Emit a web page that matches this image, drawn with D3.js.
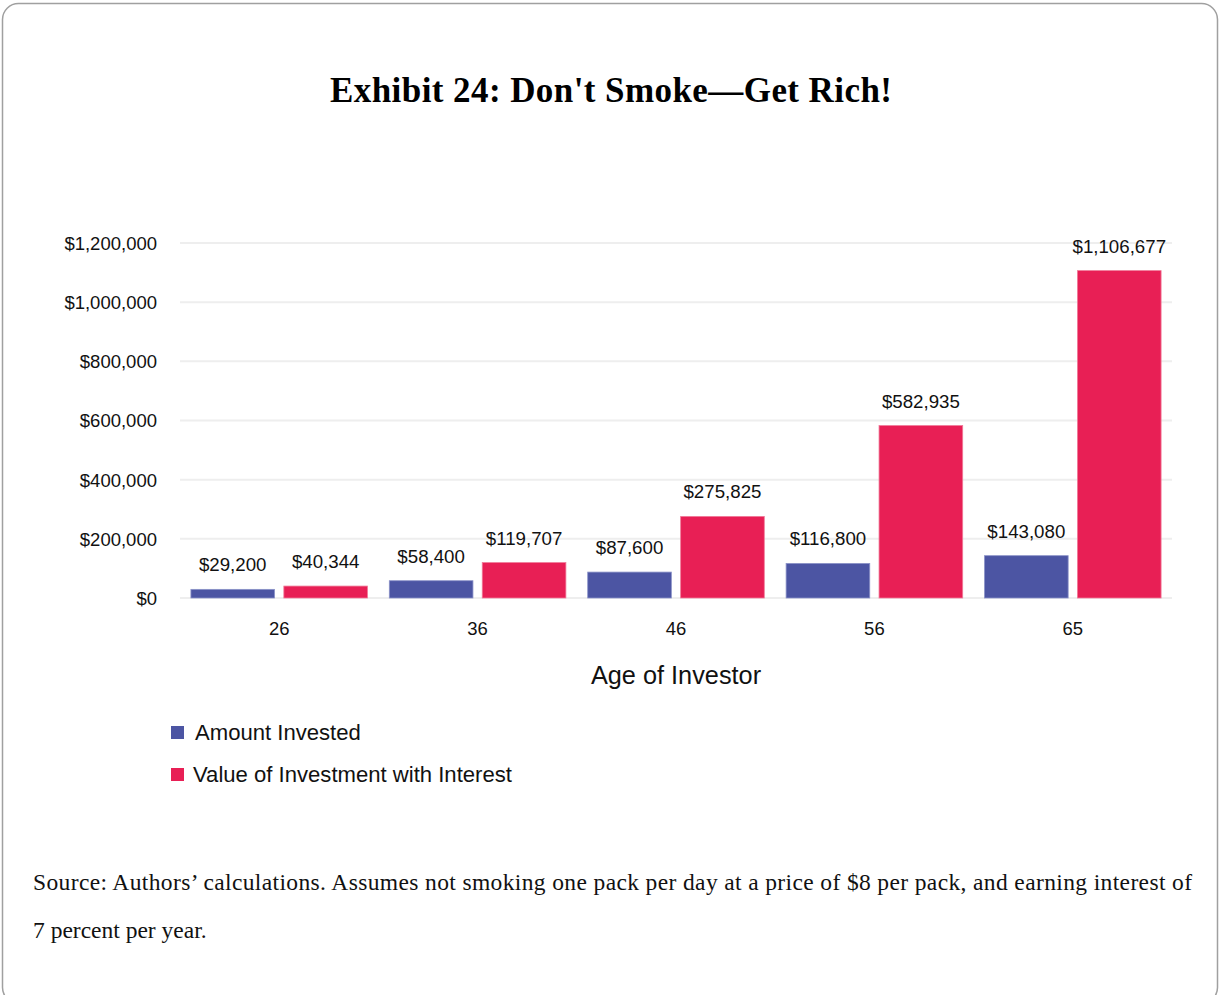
<!DOCTYPE html>
<html>
<head>
<meta charset="utf-8">
<script src="https://cdn.jsdelivr.net/npm/d3@7"></script>
<style>
  html, body { margin: 0; padding: 0; background: #fff; }
  svg { display: block; }
</style>
</head>
<body>
<svg id="chart" width="1220" height="995"></svg>
<script>
// Ages at which the savings are measured
const ages = ["26", "36", "46", "56", "65"];
// Cumulative amount not spent on cigarettes
const amountInvested = [29200, 58400, 87600, 116800, 143080];
// Same savings compounded at 7% per year
const valueWithInterest = [40344, 119707, 275825, 582935, 1106677];
const seriesNames = ["Amount Invested", "Value of Investment with Interest"];
const yTicks = [0, 200000, 400000, 600000, 800000, 1000000, 1200000];

const colors = ["#4c55a3", "#e81f55"];
const sans = "'Liberation Sans', Arial, Helvetica, sans-serif";
const serif = "'Liberation Serif', 'Times New Roman', Times, serif";

const svg = d3.select("#chart");

// Outer frame
svg.append("rect")
  .attr("x", 2.5).attr("y", 3.5)
  .attr("width", 1215).attr("height", 1000)
  .attr("rx", 16).attr("ry", 16)
  .attr("fill", "none")
  .attr("stroke", "#a0a0a0")
  .attr("stroke-width", 1.5);

// Title
svg.append("text")
  .attr("x", 611).attr("y", 102)
  .attr("text-anchor", "middle")
  .attr("font-family", serif)
  .attr("font-weight", "bold")
  .attr("font-size", 35)
  .attr("textLength", 562)
  .attr("lengthAdjust", "spacing")
  .attr("fill", "#000")
  .text("Exhibit 24: Don't Smoke\u2014Get Rich!");

const plot = { left: 180, right: 1172, top: 243, bottom: 598 };

const y = d3.scaleLinear()
  .domain([0, 1200000])
  .range([plot.bottom, plot.top]);

const x0 = d3.scaleBand()
  .domain(ages)
  .range([plot.left, plot.right])
  .paddingInner(0.11)
  .paddingOuter(0.055);

const x1 = d3.scaleBand()
  .domain([0, 1])
  .range([0, x0.bandwidth()])
  .paddingInner(0.1);

// Gridlines
svg.append("g")
  .selectAll("line")
  .data(yTicks)
  .join("line")
  .attr("x1", plot.left).attr("x2", plot.right)
  .attr("y1", d => y(d)).attr("y2", d => y(d))
  .attr("stroke", "#eeeeee")
  .attr("stroke-width", 2);

// Y axis
const fmt = d => "$" + d3.format(",")(d);
const yAxis = svg.append("g")
  .attr("transform", `translate(${plot.left - 23},0)`)
  .call(d3.axisLeft(y).tickValues(yTicks).tickFormat(fmt).tickSize(0).tickPadding(0));
yAxis.select(".domain").remove();
yAxis.selectAll("text")
  .attr("font-family", sans)
  .attr("font-size", 18.5)
  .attr("fill", "#111")
  .attr("dy", "0.35em");

// X axis
const xAxis = svg.append("g")
  .attr("transform", `translate(0,${plot.bottom})`)
  .call(d3.axisBottom(x0).tickSize(0).tickPadding(0));
xAxis.select(".domain").remove();
xAxis.selectAll("text")
  .attr("font-family", sans)
  .attr("font-size", 18.5)
  .attr("fill", "#111")
  .attr("dy", 0)
  .attr("y", 37);

// Axis title
svg.append("text")
  .attr("x", (plot.left + plot.right) / 2)
  .attr("y", 684)
  .attr("text-anchor", "middle")
  .attr("font-family", sans)
  .attr("font-size", 25.3)
  .attr("fill", "#111")
  .text("Age of Investor");

// Bars
const rows = ages.map((a, i) => ({ age: a, values: [amountInvested[i], valueWithInterest[i]] }));

const groups = svg.append("g")
  .selectAll("g")
  .data(rows)
  .join("g")
  .attr("transform", d => `translate(${x0(d.age)},0)`);

groups.selectAll("rect")
  .data(d => d.values.map((v, k) => ({ k, v })))
  .join("rect")
  .attr("x", d => x1(d.k))
  .attr("width", x1.bandwidth())
  .attr("y", d => y(d.v))
  .attr("height", d => y(0) - y(d.v))
  .attr("fill", d => colors[d.k])
  .attr("stroke", d => d.k === 0 ? "#8b92c8" : "#f07a98")
  .attr("stroke-width", 0.8);

groups.selectAll("text")
  .data(d => d.values.map((v, k) => ({ k, v })))
  .join("text")
  .attr("x", d => x1(d.k) + x1.bandwidth() / 2)
  .attr("y", d => y(d.v) - 18)
  .attr("text-anchor", "middle")
  .attr("font-family", sans)
  .attr("font-size", 18.7)
  .attr("fill", "#111")
  .text(d => fmt(d.v));

// Legend
const legend = svg.append("g")
  .selectAll("g")
  .data(seriesNames)
  .join("g")
  .attr("transform", (d, i) => `translate(171,${726 + i * 42})`);

legend.append("rect")
  .attr("width", 13).attr("height", 13)
  .attr("fill", (d, i) => colors[i]);

legend.append("text")
  .attr("x", (d, i) => i === 0 ? 24 : 22)
  .attr("y", 14)
  .attr("font-family", sans)
  .attr("font-size", 22.1)
  .attr("fill", "#111")
  .text(d => d);

// Source note
const notes = [
  "Source: Authors\u2019 calculations. Assumes not smoking one pack per day at a price of $8 per pack, and earning interest of",
  "7 percent per year."
];
svg.append("g")
  .selectAll("text")
  .data(notes)
  .join("text")
  .attr("x", 33)
  .attr("y", (d, i) => 890 + i * 48)
  .attr("font-family", serif)
  .attr("font-size", 23.5)
  .attr("fill", "#111")
  .attr("textLength", (d, i) => i === 0 ? 1159 : null)
  .attr("lengthAdjust", "spacing")
  .text(d => d);
</script>
</body>
</html>
